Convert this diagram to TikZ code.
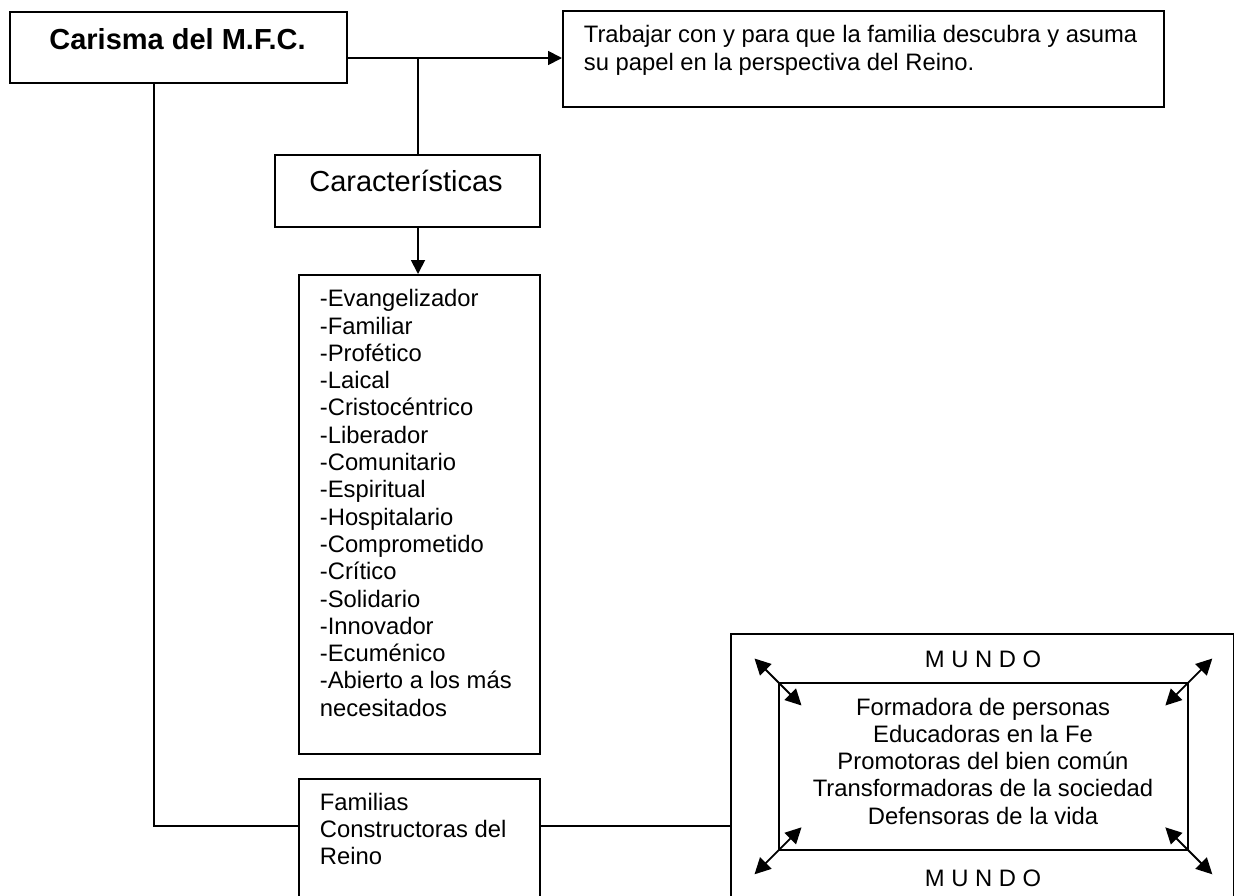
\documentclass[tikz,border=0pt]{standalone}
\usepackage{fontspec}
\setmainfont{Liberation Sans}
\usetikzlibrary{arrows.meta,calc}

\begin{document}
\begin{tikzpicture}[x=0.5pt, y=-0.5pt, line width=0.9pt,
        box/.style={draw, anchor=north west, inner sep=0pt},
        txt/.style={font=\fontsize{11.9}{13.65}\selectfont, inner sep=0pt},
        big/.style={font=\fontsize{14.5}{17}\selectfont, inner sep=0pt},
        arr/.style={-{Triangle[length=7pt, width=7pt]}},
        dblarr/.style={{Triangle[length=8pt, width=8pt]}-{Triangle[length=8pt, width=8pt]}}]

        \useasboundingbox (0,0) rectangle (1234,895);
        \clip (0,0) rectangle (1234,895);

        % boxes
        \node[box, minimum width=168.5pt, minimum height=35.5pt] (carisma) at (9,11) {};
        \node[box, minimum width=300.5pt, minimum height=48pt] (trabajar) at (562,10) {};
        \node[box, minimum width=132.5pt, minimum height=36pt] (caract) at (274,154) {};
        \node[box, minimum width=120.5pt, minimum height=239.5pt] (lista) at (298,274) {};
        \node[box, minimum width=120.5pt, minimum height=70pt] (familias) at (298,778) {};
        \node[box, minimum width=251.5pt, minimum height=142pt] (mundo) at (730,633) {};
        \node[box, minimum width=204.5pt, minimum height=83.5pt] (inner) at (778,682) {};

        % box texts (base = last line)
        \node[inner sep=0pt, font=\fontsize{14.5}{17}\selectfont\bfseries, anchor=base] (carisma text) at (177.5,49) {Carisma del M.F.C.};
        \node[txt, anchor=base west, align=left] (trabajar text) at (583,70) {Trabajar con y para que la familia descubra y asuma\\su papel en la perspectiva del Reino.};
        \node[big, anchor=base] (caract text) at (406,191.7) {Características};
        \node[txt, anchor=base west, align=left] (lista text) at (319,716.2) {-Evangelizador\\-Familiar\\-Profético\\-Laical\\-Cristocéntrico\\-Liberador\\-Comunitario\\-Espiritual\\-Hospitalario\\-Comprometido\\-Crítico\\-Solidario\\-Innovador\\-Ecuménico\\-Abierto a los más\\necesitados};
        \node[txt, anchor=base west, align=left] (familias text) at (319,864.6) {Familias\\Constructoras del\\Reino};

        % mundo
        \node[txt, anchor=base] (mundo top) at (983,667) {M U N D O};
        \node[txt, anchor=base, align=center] (inner text) at (983,824.2) {Formadora de personas\\Educadoras en la Fe\\Promotoras del bien común\\Transformadoras de la sociedad\\Defensoras de la vida};
        \node[txt, anchor=base] (mundo bottom) at (983,886) {M U N D O};

        % connectors
        \coordinate (split) at (418,58);
        \coordinate (corner) at (154,825.7);
        \draw[arr] (carisma.east |- split) -- (trabajar.west |- split);
        \draw (split) -- (split |- caract.north);
        \draw[arr] (split |- caract.south) -- (split |- lista.north);
        \draw (corner |- carisma.south) -- (corner) -- (corner -| familias.west);
        \draw (familias.east |- corner) -- (mundo.west |- corner);

        % corner arrows
        \draw[dblarr] ($(inner.north west)+(-23.5,-23.5)$) -- ($(inner.north west)+(23.5,23.5)$);
        \draw[dblarr] ($(inner.north east)+(23.5,-23.5)$) -- ($(inner.north east)+(-23.5,23.5)$);
        \draw[dblarr] ($(inner.south west)+(-23.5,23.5)$) -- ($(inner.south west)+(23.5,-23.5)$);
        \draw[dblarr] ($(inner.south east)+(23.5,23.5)$) -- ($(inner.south east)+(-23.5,-23.5)$);
\end{tikzpicture}
\end{document}
